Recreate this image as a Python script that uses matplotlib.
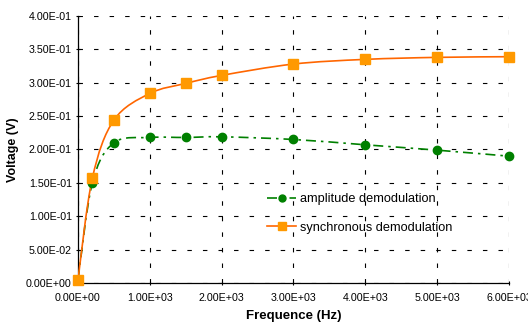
import matplotlib
matplotlib.use("Agg")
import matplotlib.pyplot as plt
from matplotlib.path import Path
from matplotlib.patches import PathPatch
from matplotlib.lines import Line2D
from matplotlib.ticker import FuncFormatter
import numpy as np

plt.rcParams['font.family'] = ['Liberation Sans', 'DejaVu Sans']

freq = [0, 200, 500, 1000, 1500, 2000, 3000, 4000, 5000, 6000]
amplitude = [0.005, 0.150, 0.210, 0.218, 0.218, 0.219, 0.215, 0.207, 0.199, 0.190]
synchronous = [0.005, 0.157, 0.244, 0.284, 0.299, 0.311, 0.328, 0.335, 0.338, 0.339]

green = '#008000'
orange_line = '#FF6600'
orange_mark = '#FF9900'


def smooth_path(x, y):
    # Excel-style smoothed line as cubic bezier segments
    x = np.asarray(x, float)
    y = np.asarray(y, float)
    verts = [(x[0], y[0])]
    codes = [Path.MOVETO]
    n = len(x)
    for i in range(n - 1):
        x0, y0 = (x[i - 1], y[i - 1]) if i > 0 else (x[i], y[i])
        x3, y3 = (x[i + 2], y[i + 2]) if i + 2 < n else (x[i + 1], y[i + 1])
        c1 = (x[i] + (x[i + 1] - x0) / 6, y[i] + (y[i + 1] - y0) / 6)
        c2 = (x[i + 1] - (x3 - x[i]) / 6, y[i + 1] - (y3 - y[i]) / 6)
        verts += [c1, c2, (x[i + 1], y[i + 1])]
        codes += [Path.CURVE4] * 3
    return Path(verts, codes)


fig = plt.figure(figsize=(5.28, 3.27), dpi=100)
ax = fig.add_axes([0.1477, 0.1346, 0.8163, 0.8165])

dashdot = (0, (6, 3, 1.5, 3))
ax.add_patch(PathPatch(smooth_path(freq, amplitude), fill=False, edgecolor=green,
                       lw=1.2, linestyle=dashdot, zorder=3))
ax.add_patch(PathPatch(smooth_path(freq, synchronous), fill=False, edgecolor=orange_line,
                       lw=1.2, zorder=3))
ax.plot(freq, amplitude, 'o', color=green, ms=6, zorder=4, clip_on=False)
ax.plot(freq, synchronous, 's', color=orange_mark, ms=7.5, zorder=5, clip_on=False)

ax.set_xlim(0, 6000)
ax.set_ylim(0, 0.4)
ax.set_xticks(np.arange(0, 6001, 1000))
ax.set_yticks(np.arange(0, 0.401, 0.05))
ax.xaxis.set_major_formatter(FuncFormatter(lambda v, p: f"{v:.2E}"))
ax.yaxis.set_major_formatter(FuncFormatter(lambda v, p: f"{v:.2E}"))
ax.tick_params(labelsize=7.7, length=3, width=0.8, direction='inout')
ax.tick_params(axis='x', pad=6)
ax.tick_params(axis='y', pad=3)
ax.grid(True, color='black', linestyle=(0, (4, 10)), lw=0.8)
ax.set_axisbelow(True)

for s in ['top', 'right']:
    ax.spines[s].set_visible(False)
for s in ['left', 'bottom']:
    ax.spines[s].set_linewidth(0.9)

ax.set_xlabel('Frequence (Hz)', fontsize=9.5, fontweight='bold', labelpad=5)
ax.set_ylabel('Voltage (V)', fontsize=9, fontweight='bold', labelpad=5)

handles = [
    Line2D([], [], color=green, lw=1.2, linestyle=dashdot, marker='o', ms=5),
    Line2D([], [], color=orange_line, lw=1.2, marker='s', ms=6, mfc=orange_mark, mec=orange_mark),
]
ax.legend(handles, ['amplitude demodulation', 'synchronous demodulation'],
          loc='upper left', bbox_to_anchor=(0.412, 0.38), frameon=False,
          fontsize=9.2, handlelength=2.3, handletextpad=0.3, labelspacing=1.3)

fig.savefig('out.png', dpi=100)
